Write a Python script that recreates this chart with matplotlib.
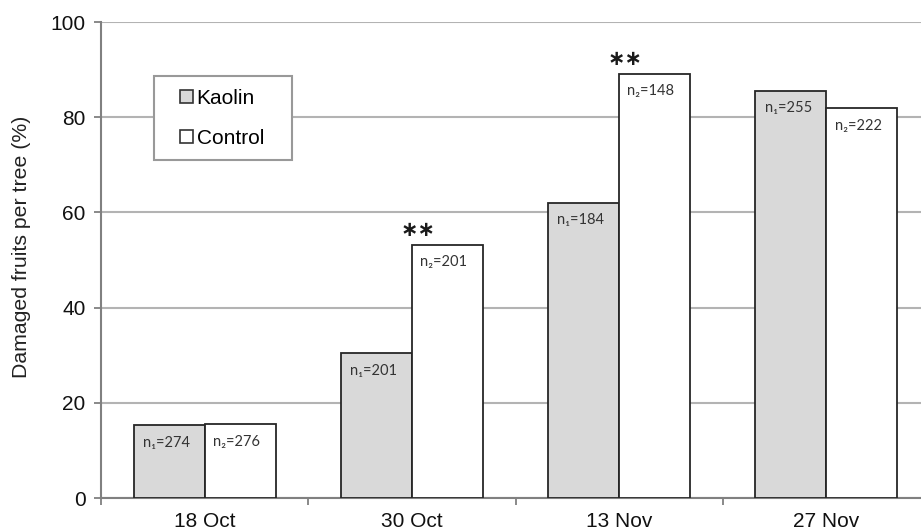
import matplotlib
matplotlib.use("Agg")
import matplotlib.pyplot as plt
import numpy as np
from matplotlib.patches import Patch, Rectangle

categories = ["18 Oct", "30 Oct", "13 Nov", "27 Nov"]
kaolin = [15.3, 30.4, 62.0, 85.5]
control = [15.5, 53.2, 89.1, 81.9]
n_kaolin = ["274", "201", "184", "255"]
n_control = ["276", "201", "148", "222"]
significant = ["", "**", "**", ""]
yticks = [0, 20, 40, 60, 80, 100]

plt.rcParams['font.family'] = ['Liberation Sans', 'DejaVu Sans']

fig = plt.figure(figsize=(9.21, 5.32), dpi=100)
ax = fig.add_axes([101/921, 34/532, 829/921, 476/532])

x = np.arange(len(categories))
w = 0.343
edge = "#262626"
ax.bar(x - w/2, kaolin, width=w, color="#d9d9d9", edgecolor=edge, linewidth=1.3, zorder=3)
ax.bar(x + w/2, control, width=w, color="white", edgecolor=edge, linewidth=1.3, zorder=3)

lab_font = ['Lato', 'DejaVu Sans']
for i in range(len(categories)):
    ax.annotate("n\u2081=" + n_kaolin[i], xy=(x[i] - w + 0.045, kaolin[i]), xytext=(0, -12.5),
                textcoords="offset points", ha="left", va="center", fontsize=10.5,
                color="#333333", family=lab_font, zorder=4)
    ax.annotate("n\u2082=" + n_control[i], xy=(x[i] + 0.04, control[i]), xytext=(0, -12.5),
                textcoords="offset points", ha="left", va="center", fontsize=10.5,
                color="#333333", family=lab_font, zorder=4)
    if significant[i]:
        ax.annotate(significant[i].replace("*", "\u2217"), xy=(x[i] + 0.03, control[i]), xytext=(0, 10.5),
                    textcoords="offset points", ha="center", va="center", fontsize=15,
                    fontweight="bold", color="#1a1a1a", family=['DejaVu Sans'], zorder=4)

ax.set_xlim(-0.5, len(categories) - 0.5)
ax.set_ylim(0, 100)
ax.set_yticks(yticks)
ax.set_yticklabels([str(t) for t in yticks])
ax.set_xticks(x)
ax.set_xticklabels(categories)
ax.set_xticks(np.arange(len(categories) + 1) - 0.5, minor=True)
ax.tick_params(axis='x', which='major', length=0, labelsize=15, pad=10, labelcolor="#111111")
ax.tick_params(axis='x', which='minor', length=5, width=1.3, color="#808080", direction='out')
ax.tick_params(axis='y', length=5, width=1.3, color="#808080", direction='out', labelsize=15,
               labelcolor="#111111", pad=6)

ax.grid(axis='y', color="#b3b3b3", linewidth=1.5, zorder=0)
ax.set_axisbelow(True)
for s in ["top", "right"]:
    ax.spines[s].set_visible(False)
for s in ["left", "bottom"]:
    ax.spines[s].set_color("#808080")
    ax.spines[s].set_linewidth(1.5)

ax.set_ylabel("Damaged fruits per tree (%)", fontsize=15.3, color="#222222")
ax.yaxis.set_label_coords((31 - 101) / 829, (498 - 247) / 476)

# legend frame drawn as a separate box
frame = Rectangle(((154 - 101) / 829, (498 - 160) / 476), 138 / 829, 84 / 476,
                  transform=ax.transAxes, facecolor="white", edgecolor="#999999",
                  linewidth=1.5, zorder=5)
ax.add_patch(frame)

handles = [Patch(facecolor="#d9d9d9", edgecolor="#333333", linewidth=1.2, label="Kaolin"),
           Patch(facecolor="white", edgecolor="#333333", linewidth=1.2, label="Control")]
leg = ax.legend(handles=handles, loc="upper left",
                bbox_to_anchor=((180 - 101) / 829, (498 - 89) / 476),
                borderaxespad=0, borderpad=0, fontsize=15, frameon=False,
                labelspacing=1.0, handlelength=0.6, handleheight=0.6,
                handletextpad=0.2)
leg.set_zorder(6)

fig.savefig("out.png", dpi=100, facecolor="white")
